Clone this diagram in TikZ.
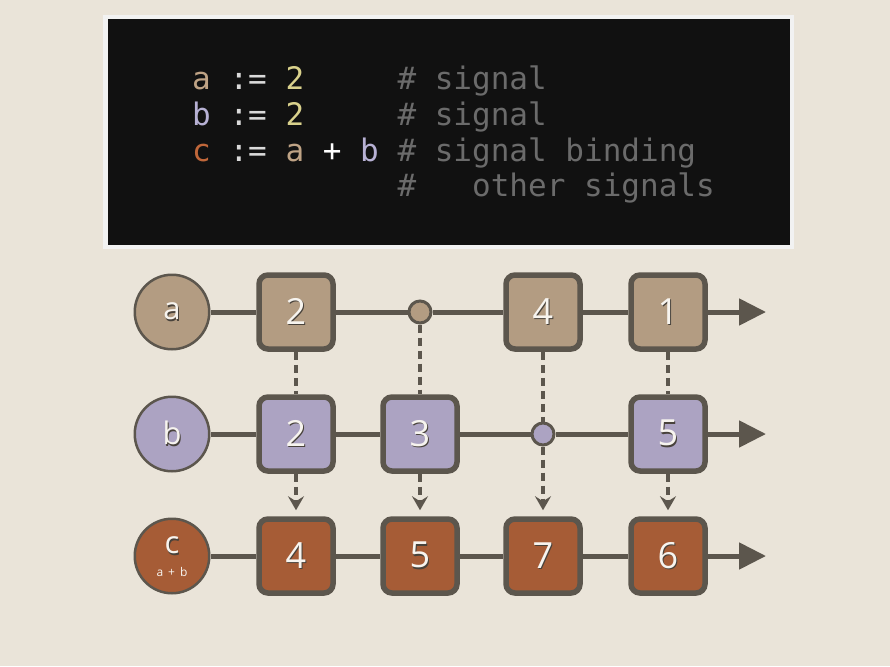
\documentclass[tikz,border=0pt]{standalone}
\usepackage{fontspec}
\setmonofont{DejaVu Sans Mono}
\setsansfont{Open Sans}
\usetikzlibrary{arrows.meta}
\definecolor{bgc}{HTML}{EAE4D9}
\definecolor{tanc}{HTML}{B39C82}
\definecolor{lavc}{HTML}{ACA3C2}
\definecolor{rustc}{HTML}{A65C36}
\definecolor{darkc}{HTML}{5C564D}
\definecolor{shadc}{HTML}{48423B}
\definecolor{txtc}{HTML}{F7F4EF}
\definecolor{codebg}{HTML}{111111}
\definecolor{codebd}{HTML}{F2F2F2}
\definecolor{ca}{HTML}{BFA385}
\definecolor{cb}{HTML}{B7B1D4}
\definecolor{cc}{HTML}{C0673A}
\definecolor{cnum}{HTML}{D9D18C}
\definecolor{cop}{HTML}{DADADA}
\definecolor{cmt}{HTML}{6B6B6B}
\newcommand\shtxt[1]{\rlap{\hspace{1pt}\raisebox{-1.5pt}{\textcolor{shadc}{#1}}}#1}
\begin{document}
\begin{tikzpicture}[x=1pt,y=-1pt,
  codeline/.style={anchor=base west, inner sep=0pt, font=\ttfamily\fontsize{31}{36}\selectfont},
  bigcirc/.style={circle, draw=darkc, line width=2.5pt, minimum size=74.5pt, inner sep=0pt, text=txtc, font=\sffamily\fontsize{31}{34}\selectfont},
  sqbox/.style={rectangle, rounded corners=9pt, draw=darkc, line width=5.5pt, minimum size=74pt, inner sep=0pt, text=txtc, font=\sffamily\fontsize{36}{40}\selectfont},
  dotc/.style={circle, draw=darkc, line width=3pt, minimum size=22pt, inner sep=0pt},
  hline/.style={draw=darkc, line width=5pt},
  hend/.style={hline, -{Triangle[length=27pt,width=26pt]}},
  vdash/.style={draw=darkc, line width=4pt, dash pattern=on 8pt off 5pt},
  vdarrow/.style={vdash, -{Stealth[length=14pt,width=16pt,inset=5pt]}, shorten >=6pt}
]
\fill[bgc] (0,0) rectangle (890,666);
\useasboundingbox (0,0) rectangle (890,666);
% code box
\draw[line width=4.5pt, draw=codebd, fill=codebg] (105.25,17.25) rectangle (791.75,246.75);
\node[codeline] (l1) at (192,90) {\textcolor{ca}{a}~\textcolor{cop}{:=}~\textcolor{cnum}{2}~~~~~\textcolor{cmt}{\#~signal}};
\node[codeline] (l2) at (192,125.5) {\textcolor{cb}{b}~\textcolor{cop}{:=}~\textcolor{cnum}{2}~~~~~\textcolor{cmt}{\#~signal}};
\node[codeline] (l3) at (192,161) {\textcolor{cc}{c}~\textcolor{cop}{:=}~\textcolor{ca}{a}~\textcolor{white}{+}~\textcolor{cb}{b}~\textcolor{cmt}{\#~signal~binding}};
\node[codeline] (l4) at (397.3,196.5) {\textcolor{cmt}{\#~~~other~signals}};
% row a
\node[bigcirc, fill=tanc] (A) at (172,312) {\shtxt{a}};
\node[sqbox, fill=tanc] (a1) at (296,312) {\shtxt{2}};
\node[dotc, fill=tanc] (ad) at (420,312) {};
\node[sqbox, fill=tanc] (a3) at (543,312) {\shtxt{4}};
\node[sqbox, fill=tanc] (a4) at (668,312) {\shtxt{1}};
\coordinate (aend) at (766,312);
% row b
\node[bigcirc, fill=lavc] (B) at (172,434) {\shtxt{b}};
\node[sqbox, fill=lavc] (b1) at (296,434) {\shtxt{2}};
\node[sqbox, fill=lavc] (b2) at (420,434) {\shtxt{3}};
\node[dotc, fill=lavc] (bd) at (543,434) {};
\node[sqbox, fill=lavc] (b4) at (668,434) {\shtxt{5}};
\coordinate (bend) at (766,434);
% row c
\node[bigcirc, fill=rustc] (C) at (172,556) {};
\node[inner sep=0pt, text=txtc, font=\sffamily\fontsize{31}{34}\selectfont] (Cl) at (172,546) {\shtxt{c}};
\node[inner sep=0pt, text=txtc, font=\sffamily\fontsize{12}{13}\selectfont] (Cs) at (172,572) {a\hspace{5pt}+\hspace{5pt}b};
\node[sqbox, fill=rustc] (c1) at (296,556) {\shtxt{4}};
\node[sqbox, fill=rustc] (c2) at (420,556) {\shtxt{5}};
\node[sqbox, fill=rustc] (c3) at (543,556) {\shtxt{7}};
\node[sqbox, fill=rustc] (c4) at (668,556) {\shtxt{6}};
\coordinate (cend) at (766,556);
% horizontal lines
\draw[hline] (A) -- (a1);
\draw[hline] (a1) -- (ad);
\draw[hline] (ad) -- (a3);
\draw[hline] (a3) -- (a4);
\draw[hend] (a4) -- (aend);
\draw[hline] (B) -- (b1);
\draw[hline] (b1) -- (b2);
\draw[hline] (b2) -- (bd);
\draw[hline] (bd) -- (b4);
\draw[hend] (b4) -- (bend);
\draw[hline] (C) -- (c1);
\draw[hline] (c1) -- (c2);
\draw[hline] (c2) -- (c3);
\draw[hline] (c3) -- (c4);
\draw[hend] (c4) -- (cend);
% vertical dashed
\draw[vdash] (a1) -- (b1);
\draw[vdash] (ad) -- (b2);
\draw[vdash] (a3) -- (bd);
\draw[vdash] (a4) -- (b4);
\draw[vdarrow] (b1) -- (c1);
\draw[vdarrow] (b2) -- (c2);
\draw[vdarrow] (bd) -- (c3);
\draw[vdarrow] (b4) -- (c4);
\end{tikzpicture}
\end{document}
